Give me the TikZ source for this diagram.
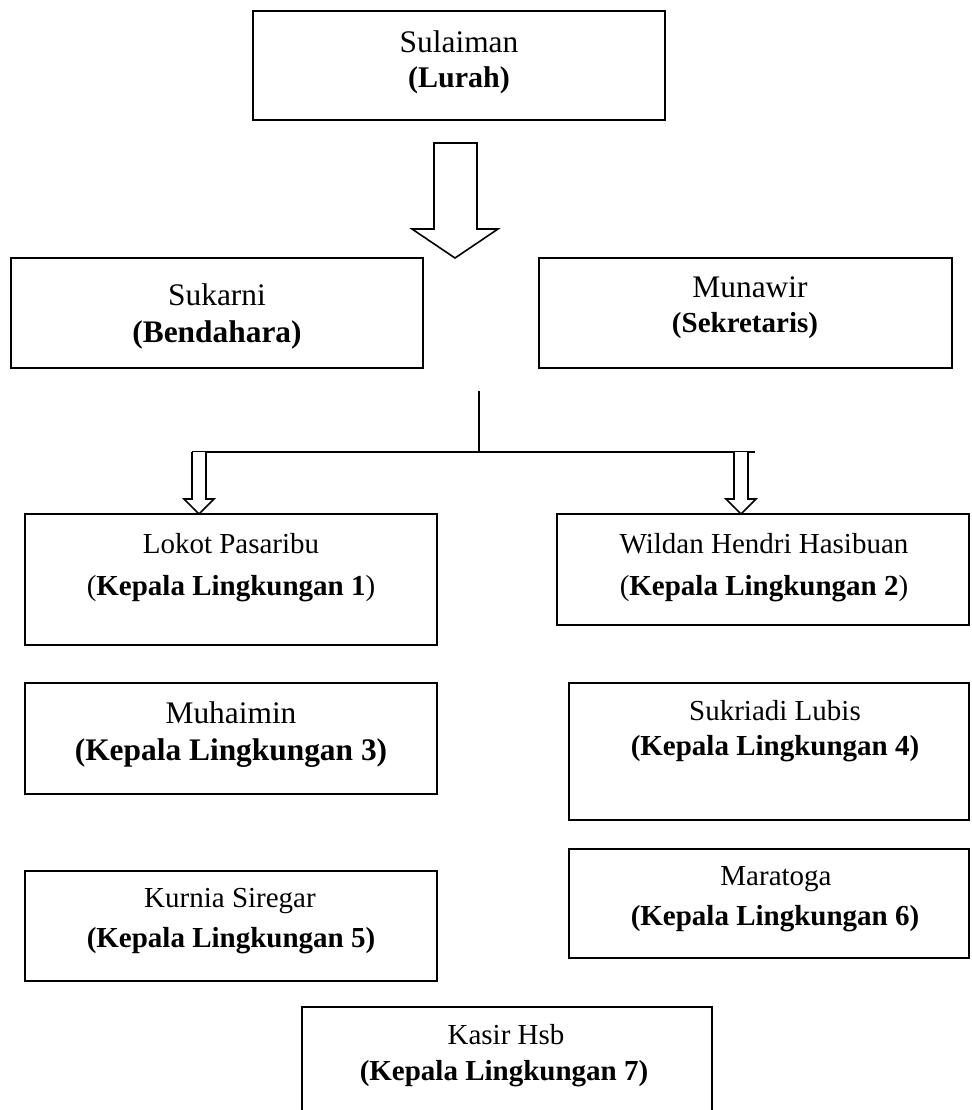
\documentclass[tikz,border=0pt]{standalone}
\usepackage{fontspec}
\setmainfont{Liberation Serif}
\usetikzlibrary{fit}
\tikzset{
  box/.style={draw=black, line width=1pt, inner sep=0pt, fill=none},
  arrowshape/.style={draw=black, line width=0.8pt, fill=white, line join=miter},
  busline/.style={draw=black, line width=0.8pt},
  lbl/.style={anchor=base, inner sep=0pt, font=\fontsize{14.5pt}{17pt}\selectfont},
  lblbig/.style={anchor=base, inner sep=0pt, font=\fontsize{15.7pt}{18pt}\selectfont},
}
\begin{document}
\begin{tikzpicture}[x=0.5pt, y=-0.5pt]
\clip (0,0) rectangle (971,1110);
\fill[white] (0,0) rectangle (971,1110);

% boxes
\node[box, fit={(253,11) (665,120)}] (lurah) {};
\node[box, fit={(11,258) (423,368)}] (bendahara) {};
\node[box, fit={(539,258) (952,368)}] (sekretaris) {};
\node[box, fit={(25,514) (437,645)}] (kl1) {};
\node[box, fit={(557,514) (968.5,625)}] (kl2) {};
\node[box, fit={(25,683) (437,794)}] (kl3) {};
\node[box, fit={(569,683) (968.5,820)}] (kl4) {};
\node[box, fit={(25,871) (437,981)}] (kl5) {};
\node[box, fit={(569,849) (968.5,958)}] (kl6) {};
\node[box, fit={(302,1007) (712,1140)}] (kl7) {};

% texts
\node[lblbig] (t0a) at (459,52) {Sulaiman};
\node[lbl, font=\fontsize{15pt}{18pt}\selectfont] (t0b) at (459,87) {\textbf{(Lurah)}};
\node[lblbig] (t1a) at (217,305) {Sukarni};
\node[lblbig] (t1b) at (217,342) {\textbf{(Bendahara)}};
\node[lblbig] (t2a) at (750,297) {Munawir};
\node[lbl] (t2b) at (745,332) {\textbf{(Sekretaris)}};
\node[lbl] (t3a) at (231,553) {Lokot Pasaribu};
\node[lbl] (t3b) at (231,595) {(\textbf{Kepala Lingkungan 1})};
\node[lbl] (t4a) at (764,553) {Wildan Hendri Hasibuan};
\node[lbl] (t4b) at (764,595) {(\textbf{Kepala Lingkungan 2})};
\node[lblbig] (t5a) at (231,723) {Muhaimin};
\node[lblbig] (t5b) at (231,760) {\textbf{(Kepala Lingkungan 3)}};
\node[lbl] (t6a) at (775,720) {Sukriadi Lubis};
\node[lbl] (t6b) at (775,755) {\textbf{(Kepala Lingkungan 4)}};
\node[lbl] (t7a) at (230,907) {Kurnia Siregar};
\node[lbl] (t7b) at (231,947) {\textbf{(Kepala Lingkungan 5)}};
\node[lbl] (t8a) at (776,885) {Maratoga};
\node[lbl] (t8b) at (775,925) {\textbf{(Kepala Lingkungan 6)}};
\node[lbl] (t9a) at (506,1044) {Kasir Hsb};
\node[lbl] (t9b) at (504,1080) {\textbf{(Kepala Lingkungan 7)}};

% big arrow from Lurah
\coordinate (bigtip) at (455,258);
\begin{scope}[shift={(bigtip)}]
\draw[arrowshape] (-21,-115) -- (22,-115) -- (22,-29) -- (43,-29) -- (0,0)
  -- (-43,-29) -- (-21,-29) -- cycle;
\end{scope}

% bus
\coordinate (bustop) at (479,391);
\coordinate (busmid) at (479,452);
\coordinate (busL) at (192,452);
\coordinate (busR) at (755,452);
\draw[busline] (bustop) -- (busmid);
\draw[busline] (busL) -- (busR);

% small arrows
\coordinate (tipL) at (199,514);
\coordinate (tipR) at (741,514);
\begin{scope}[shift={(tipL)}]
\draw[arrowshape] (-7,-62) -- (-7,-15) -- (-15,-15) -- (0,0) -- (15,-15) -- (7,-15) -- (7,-62);
\end{scope}
\begin{scope}[shift={(tipR)}]
\draw[arrowshape] (-7,-62) -- (-7,-15) -- (-15,-15) -- (0,0) -- (15,-15) -- (7,-15) -- (7,-62);
\end{scope}
\end{tikzpicture}
\end{document}
